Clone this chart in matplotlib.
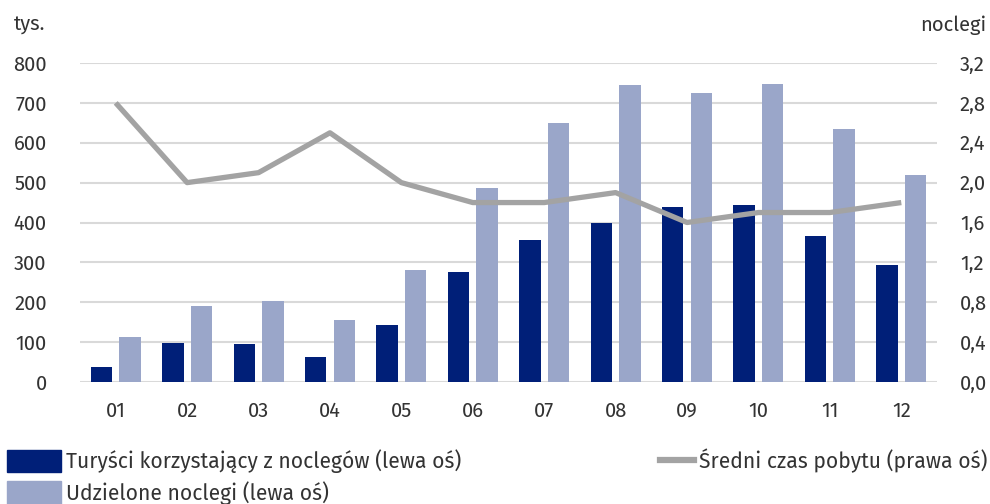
import matplotlib.pyplot as plt
import numpy as np
from matplotlib.lines import Line2D
from matplotlib.patches import Patch
from matplotlib.ticker import FuncFormatter

months = ['01', '02', '03', '04', '05', '06', '07', '08', '09', '10', '11', '12']
tourists = [38, 97, 95, 62, 142, 277, 356, 400, 440, 445, 367, 293]
nights = [113, 190, 202, 155, 282, 487, 650, 745, 725, 748, 635, 520]
avg_stay = [2.8, 2.0, 2.1, 2.5, 2.0, 1.8, 1.8, 1.9, 1.6, 1.7, 1.7, 1.8]

DARK = '#001f78'
LIGHT = '#9aa6c9'
GREY = '#a3a3a3'
TXT = '#333333'

plt.rcParams['font.family'] = ['Fira Sans', 'Open Sans', 'DejaVu Sans']
FS = 14.5    # ticks
LFS = 15.2   # legend

fig = plt.figure(figsize=(9.9, 5.04), dpi=100)
ax = fig.add_axes([80 / 990, 1 - 382 / 504, 857 / 990, 319 / 504])
ax2 = ax.twinx()

x = np.arange(len(months))
w = 0.3
ax.bar(x - 0.2, tourists, w, color=DARK, zorder=3)
ax.bar(x + 0.2, nights, w, color=LIGHT, zorder=3)
ax2.plot(x, avg_stay, color=GREY, lw=3.8, solid_capstyle='butt', zorder=4)

ax.set_xlim(-0.5, 11.5)
ax.set_ylim(0, 800)
ax.set_yticks(range(0, 801, 100))
ax2.set_ylim(0, 3.2)
ax2.set_yticks(np.arange(0, 3.21, 0.4))
ax2.yaxis.set_major_formatter(FuncFormatter(lambda v, p: f'{v:.1f}'.replace('.', ',')))

ax.grid(axis='y', color='#d9d9d9', lw=1.5, zorder=0)
for a in (ax, ax2):
    for s in a.spines.values():
        s.set_visible(False)
    a.tick_params(length=0, colors=TXT, labelsize=FS)
ax.tick_params(axis='y', pad=24)
ax2.tick_params(axis='y', pad=16.5)
ax.set_xticks(x)
ax.set_xticklabels(months)
ax.tick_params(axis='x', pad=14)

fig.text(14 / 990, 1 - 25 / 504, 'tys.', fontsize=FS, color=TXT, va='center')
fig.text(986 / 990, 1 - 25 / 504, 'noclegi', fontsize=FS, color=TXT, va='center', ha='right')

h_bars = [Patch(color=DARK), Patch(color=LIGHT)]
leg1 = fig.legend(h_bars, ['Turyści korzystający z noclegów (lewa oś)', 'Udzielone noclegi (lewa oś)'],
                  loc='upper left', bbox_to_anchor=(7 / 990, 1 - 449 / 504), frameon=False,
                  fontsize=LFS, handlelength=2.55, handleheight=1.25,
                  handletextpad=0.24, labelspacing=0.38, borderaxespad=0, borderpad=0)
for t in leg1.get_texts():
    t.set_color(TXT)
leg2 = fig.legend([Line2D([], [], color=GREY, lw=4.5)], ['Średni czas pobytu (prawa oś)'],
                  loc='upper left', bbox_to_anchor=(660 / 990, 1 - 449 / 504), frameon=False,
                  fontsize=LFS, handlelength=1.63, handleheight=1.25,
                  handletextpad=0.24, borderaxespad=0, borderpad=0)
for t in leg2.get_texts():
    t.set_color(TXT)

fig.savefig('out.png', dpi=100)
